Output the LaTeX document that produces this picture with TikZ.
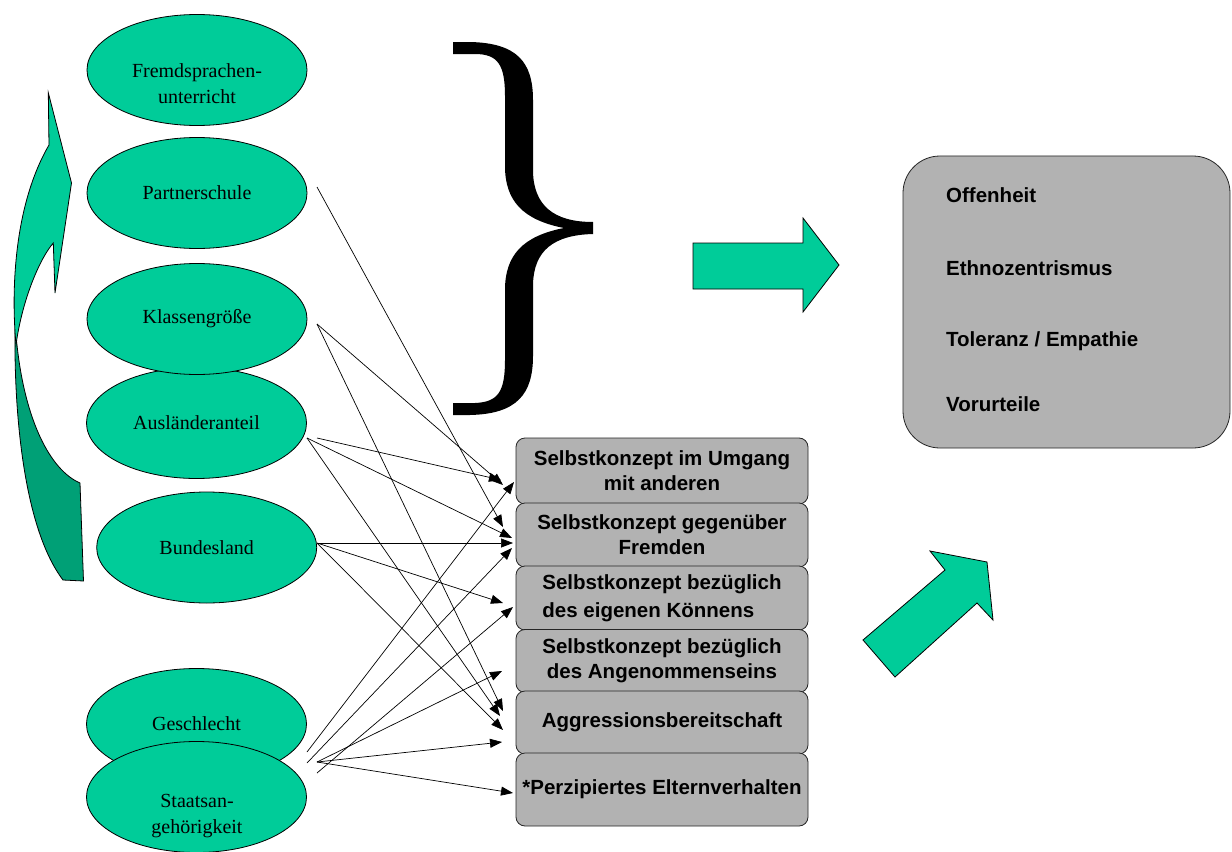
\documentclass[tikz,border=0pt]{standalone}
\usepackage{fontspec}
\setmainfont{Liberation Serif}
\newfontfamily\boxfont{Liberation Sans}
\usetikzlibrary{arrows.meta,shapes.geometric}
\definecolor{grn}{RGB}{0,204,153}
\definecolor{dgrn}{RGB}{0,160,118}
\definecolor{gry}{RGB}{178,178,178}
\begin{document}
\begin{tikzpicture}[x=1bp,y=-1bp,
  ell/.style={ellipse,draw=black,line width=0.8bp,fill=grn,minimum width=220bp,minimum height=111bp,inner sep=0pt,
    font=\fontsize{20bp}{25bp}\selectfont,align=center},
  elltxt/.style={font=\fontsize{20bp}{26bp}\selectfont,align=center,inner sep=0pt},
  sbox/.style={draw=black!85,line width=0.8bp,fill=gry,rounded corners=9bp,minimum width=292bp,inner sep=0pt,
    font=\boxfont\bfseries\fontsize{20.5bp}{25bp}\selectfont,align=center},
  restxt/.style={anchor=base west,inner sep=0pt,font=\boxfont\bfseries\fontsize{20.5bp}{25bp}\selectfont},
  blockarrow/.style={draw=black,line width=0.8bp,fill=grn,line join=miter},
  conn/.style={draw=black,line width=0.7bp,-{Triangle[length=12bp,width=9bp]}}
]
\useasboundingbox (0,0) rectangle (1232,852);
\fill[white] (0,0) rectangle (1232,852);

% curved arrow on the left
\filldraw[fill=dgrn,draw=black,line width=0.8bp] (15,330) .. controls (14,420) and (25,530) .. (63,580)
  -- (83.5,581) -- (80,483) .. controls (50,470) and (25,420) .. (17,345) -- cycle;
\filldraw[fill=grn,draw=black,line width=0.8bp] (48.3,92.7) -- (71.5,183) -- (55,293) -- (53.3,243)
  .. controls (40,258) and (22,300) .. (16,345)
  .. controls (11,290) and (14,205) .. (49,145) -- cycle;

% ellipses
\node[ell] (fremd) at (197,70) {};
\node[elltxt] (fremdt) at (197,84) {Fremdsprachen-\\unterricht};
\node[ell] (partner) at (197,193) {Partnerschule};
\node[ell] (ausl) at (196.5,423) {Ausländeranteil};
\node[ell] (klass) at (197,319) {Klassengröße};
\node[ell] (bund) at (206.7,547.5) {Bundesland};
\node[ell] (gesch) at (196.5,724) {Geschlecht};
\node[ell] (staat) at (196.5,797) {};
\node[elltxt] (staatt) at (197,816) {Staatsan-\\gehörigkeit};

% brace
\fill[black] (453,42) -- (470,42) .. controls (517,43) and (533,62) .. (533,100) -- (533,172)
  .. controls (534,205) and (553,222) .. (593,222) -- (593,234)
  .. controls (553,235) and (534,251) .. (533,284) -- (533,356)
  .. controls (533,394) and (517,414) .. (470,415) -- (453,415) -- (453,403) -- (475,403)
  .. controls (498,402) and (505,392) .. (505,360) -- (505,290)
  .. controls (505,255) and (523,236) .. (564,228)
  .. controls (523,220) and (505,201) .. (505,166) -- (505,96)
  .. controls (505,65) and (498,54) .. (475,54) -- (453,54) -- cycle;

% block arrows
\filldraw[blockarrow] (693,243) -- (803,243) -- (803,218) -- (839,265) -- (803,312) -- (803,289) -- (693,289) -- cycle;
\filldraw[blockarrow] (863,640) -- (945,570) -- (930,551) -- (987,562) -- (993,620) -- (977,603) -- (895,677) -- cycle;

% result box
\node[draw=black!85,line width=0.8bp,fill=gry,rounded corners=37bp,minimum width=327bp,minimum height=292bp,inner sep=0pt] (res) at (1066.5,302) {};
\node[restxt] (r1) at (946,202) {Offenheit};
\node[restxt] (r2) at (946,275) {Ethnozentrismus};
\node[restxt] (r3) at (946,346) {Toleranz / Empathie};
\node[restxt] (r4) at (946,411) {Vorurteile};

% stacked boxes
\node[sbox,minimum height=66bp] (b1) at (662,471) {Selbstkonzept im Umgang\\mit anderen};
\node[sbox,minimum height=64bp] (b2) at (662,535) {Selbstkonzept gegenüber\\Fremden};
\node[sbox,minimum height=64bp,align=left,font=\boxfont\bfseries\fontsize{20.5bp}{28bp}\selectfont] (b3) at (662,598) {Selbstkonzept bezüglich\\des eigenen Könnens};
\node[sbox,minimum height=63bp] (b4) at (662,661) {Selbstkonzept bezüglich\\des Angenommenseins};
\node[sbox,minimum height=63bp] (b5) at (662,722.5) {Aggressionsbereitschaft};
\node[sbox,minimum height=73bp] (b6) at (662,789.5) {*Perzipiertes Elternverhalten};

% connector end points
\coordinate (pS) at (317,187);
\coordinate (kS) at (317,324);
\coordinate (aS1) at (317,438);
\coordinate (aS2) at (307,438);
\coordinate (bS) at (317,543);
\coordinate (sA) at (307,752);
\coordinate (sB) at (307,763);
\coordinate (sC) at (317,773);
\coordinate (sD) at (317,762);

\coordinate (e1a) at (501,480);
\coordinate (e1b) at (503,485);
\coordinate (e1c) at (514,482);
\coordinate (e2a) at (503,527);
\coordinate (e2b) at (512,538);
\coordinate (e2c) at (513,543);
\coordinate (e2d) at (512,548);
\coordinate (e3a) at (503,603);
\coordinate (e3b) at (513,607);
\coordinate (e4) at (502,671);
\coordinate (e5a) at (503,711);
\coordinate (e5b) at (500,716);
\coordinate (e5c) at (503,730);
\coordinate (e5d) at (502,742);
\coordinate (e6) at (513,793);

% connectors
\draw[conn] (pS) -- (e2a);
\draw[conn] (kS) -- (e1b);
\draw[conn] (kS) -- (e5a);
\draw[conn] (aS1) -- (e1a);
\draw[conn] (aS2) -- (e2b);
\draw[conn] (aS2) -- (e5b);
\draw[conn] (bS) -- (e2c);
\draw[conn] (bS) -- (e3a);
\draw[conn] (bS) -- (e5c);
\draw[conn] (sA) -- (e1c);
\draw[conn] (sB) -- (e2d);
\draw[conn] (sC) -- (e3b);
\draw[conn] (sD) -- (e4);
\draw[conn] (sD) -- (e5d);
\draw[conn] (sD) -- (e6);
\end{tikzpicture}
\end{document}
